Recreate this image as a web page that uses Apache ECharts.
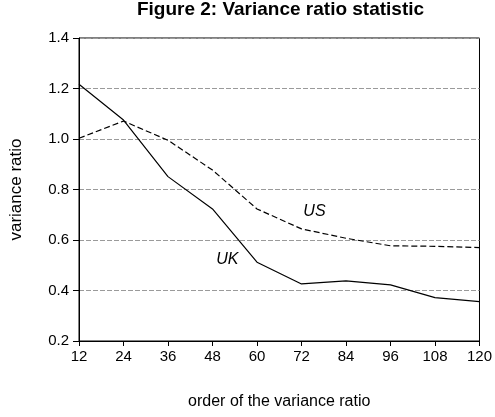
<!DOCTYPE html>
<html>
<head>
<meta charset="utf-8">
<script src="https://cdn.jsdelivr.net/npm/echarts@6/dist/echarts.min.js"></script>
<style>html,body{margin:0;padding:0;background:#fff;}#c{width:495px;height:417px;}</style>
</head>
<body>
<div id="c"></div>
<script>
const orders = [12, 24, 36, 48, 60, 72, 84, 96, 108, 120];
const ukValues = [1.217, 1.075, 0.851, 0.723, 0.512, 0.426, 0.438, 0.422, 0.372, 0.356];
const usValues = [1.003, 1.071, 0.995, 0.877, 0.723, 0.644, 0.607, 0.577, 0.575, 0.570];
const yTicks = [0.2, 0.4, 0.6, 0.8, 1.0, 1.2, 1.4];
const seriesLabels = [
  { name: 'UK', x: 52, y: 0.521 },
  { name: 'US', x: 75.5, y: 0.712 }
];

const chart = echarts.init(document.getElementById('c'), null, { renderer: 'canvas' });
const font = 'Arial, "Liberation Sans", sans-serif';
chart.setOption({
  animation: false,
  backgroundColor: '#fff',
  title: {
    text: 'Figure 2: Variance ratio statistic',
    left: 280.5, top: 0, textAlign: 'center', padding: 0,
    textStyle: { fontFamily: font, fontWeight: 'bold', fontSize: 19, color: '#000' }
  },
  grid: { left: 78, right: 14, top: 38, bottom: 76, show: true, borderColor: '#000', borderWidth: 1, backgroundColor: 'transparent' },
  xAxis: {
    type: 'value', min: 12, max: 120, interval: 12,
    name: 'order of the variance ratio', nameLocation: 'middle', nameGap: 53,
    nameTextStyle: { fontFamily: font, fontSize: 16, color: '#000' },
    axisLine: { show: true, lineStyle: { color: '#000', width: 1 } },
    axisTick: { show: true, length: 5, lineStyle: { color: '#000' } },
    axisLabel: { fontFamily: font, fontSize: 15, color: '#000', margin: 8, showMinLabel: true, showMaxLabel: true },
    splitLine: { show: false }
  },
  yAxis: {
    type: 'value', min: 0.2, max: 1.4, interval: 0.2,
    name: 'variance ratio', nameLocation: 'middle', nameGap: 54,
    nameTextStyle: { fontFamily: font, fontSize: 17, color: '#000' },
    axisLine: { show: true, lineStyle: { color: '#000', width: 1 } },
    axisTick: { show: true, length: 6, lineStyle: { color: '#000' } },
    axisLabel: { fontFamily: font, fontSize: 15, color: '#000', margin: 10,
      formatter: v => yTicks.find(t => Math.abs(t - v) < 1e-6).toFixed(1) },
    splitLine: { show: true, lineStyle: { color: '#9a9a9a', type: [5, 2], width: 1 } }
  },
  series: [
    {
      name: 'UK', type: 'line', symbol: 'none',
      data: orders.map((o, i) => [o, ukValues[i]]),
      lineStyle: { color: '#000', width: 1.2, type: 'solid' }
    },
    {
      name: 'US', type: 'line', symbol: 'none',
      data: orders.map((o, i) => [o, usValues[i]]),
      lineStyle: { color: '#000', width: 1.2, type: [6, 3] }
    },
    {
      type: 'scatter', symbolSize: 1,
      itemStyle: { color: 'rgba(0,0,0,0)' },
      data: seriesLabels.map(l => ({ value: [l.x, l.y], name: l.name })),
      label: { show: true, position: 'inside', formatter: p => p.name, opacity: 1,
        fontFamily: font, fontStyle: 'italic', fontSize: 16, color: '#000', textBorderWidth: 0 },
      emphasis: { disabled: true },
      silent: true
    }
  ]
});
</script>
</body>
</html>
